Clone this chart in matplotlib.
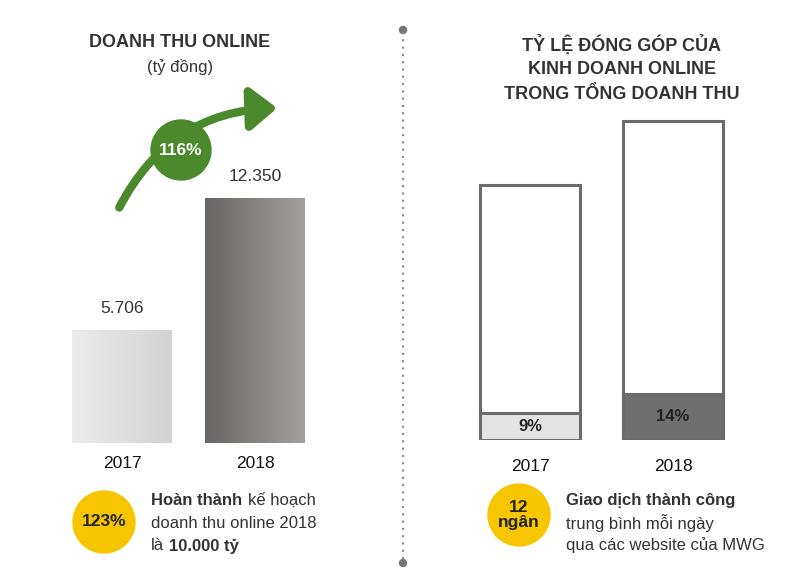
import numpy as np
import matplotlib.pyplot as plt
from matplotlib.patches import Circle, FancyArrowPatch
from matplotlib.colors import LinearSegmentedColormap

plt.rcParams['font.family'] = 'Liberation Sans'

years = ['2017', '2018']
online_revenue = [5706, 12350]          # tỷ đồng
online_labels = ['5.706', '12.350']
total_revenue = [66300, 82900]          # estimated, for outline bars
online_share = [0.105, 0.145]           # drawn fill proportion (estimated)
share_labels = ['9%', '14%']

W, H = 800, 569
fig = plt.figure(figsize=(8, 5.69), dpi=100)
fig.patch.set_facecolor('white')
TXT = '#333333'

def fax(l, b, w, h):
    return fig.add_axes([l / W, 1 - (b) / H, w / W, h / H])

# ---- left bar chart ----
axL = fax(40, 443, 300, 363)
axL.axis('off')
grads = [('#ececec', '#d2d2d2'), ('#676565', '#a39f9c')]
bw = 0.752
for i, v in enumerate(online_revenue):
    cm = LinearSegmentedColormap.from_list('g', grads[i])
    x0 = i - bw / 2
    axL.imshow(np.linspace(0, 1, 100)[None, :], cmap=cm, aspect='auto',
               extent=[x0, x0 + bw, 0, v], zorder=1)
axL.set_xlim(-0.617, 1.64)
axL.set_ylim(0, 18333)

# ---- right bar chart ----
axR = fax(425, 440, 350, 400)
axR.set_xlim(-0.734, 1.713)
axR.set_ylim(0, 66300 * 400 / 255)
axR.axis('off')
bw2 = 100 / 143
for i, t in enumerate(total_revenue):
    axR.bar(i, t, width=bw2, facecolor='white', edgecolor='#6b6b6b', linewidth=2.2, zorder=2)
    axR.bar(i, t * online_share[i], width=bw2, facecolor=['#e4e4e4', '#6f6f6f'][i],
            edgecolor='#6b6b6b', linewidth=2.2, zorder=3)
    axR.text(i, t * online_share[i] / 2, share_labels[i], ha='center', va='center',
             fontsize=12, fontweight='bold', color='#222222', zorder=4)

# ---- overlay ----
ov = fig.add_axes([0, 0, 1, 1])
ov.set_xlim(0, W); ov.set_ylim(H, 0); ov.axis('off')
ov.patch.set_alpha(0)

ov.text(180, 42, 'DOANH THU ONLINE', ha='center', va='center', fontsize=13, fontweight='bold', color=TXT)
ov.text(180, 67, '(tỷ đồng)', ha='center', va='center', fontsize=12, color=TXT)
for j, s in enumerate(['TỶ LỆ ĐÓNG GÓP CỦA', 'KINH DOANH ONLINE', 'TRONG TỔNG DOANH THU']):
    ov.text(622, 45 + j * 24.5, s, ha='center', va='center', fontsize=13, fontweight='bold', color=TXT)

for i, (y, lab) in enumerate(zip(years, online_labels)):
    cx = 122 + i * 133
    top = 443 - online_revenue[i] * 363 / 18333
    ov.text(cx, top - 22, lab, ha='center', va='center', fontsize=12.5, color=TXT)
    ov.text(cx, 463, y, ha='center', va='center', fontsize=12.5, color='#111111')
    ov.text(530 + i * 143, 466, y, ha='center', va='center', fontsize=12.5, color='#111111')

# divider
ov.plot([403, 403], [32, 562], ls=(0, (1, 2.5)), color='#888888', lw=1.5)
ov.add_patch(Circle((403, 30), 3.5, color='#777777'))
ov.add_patch(Circle((403, 563), 3.5, color='#777777'))

# green arrow
green = '#4a8a2c'
ov.add_patch(FancyArrowPatch((118, 210), (280, 108), connectionstyle='arc3,rad=-0.3',
                             arrowstyle='-|>,head_length=10,head_width=8', color=green, lw=6,
                             mutation_scale=1.6))
ov.add_patch(Circle((181, 150), 30, color=green, zorder=5))
ov.text(181, 150, '116%', ha='center', va='center', fontsize=12.5, fontweight='bold', color='white', zorder=6)

# yellow circles
yel = '#f7c600'
ov.add_patch(Circle((104, 522), 31, color=yel))
ov.text(104, 522, '123%', ha='center', va='center', fontsize=12.5, fontweight='bold', color='#222222')
ov.add_patch(Circle((519, 515), 31, color=yel))
ov.text(519, 515, '12\nngân', ha='center', va='center', fontsize=12.5, fontweight='bold',
        color='#222222', linespacing=1.0)

# bottom texts
ov.text(151, 500, 'Hoàn thành', ha='left', va='center', fontsize=12, fontweight='bold', color=TXT)
ov.text(248, 500, 'kế hoạch', ha='left', va='center', fontsize=12, color=TXT)
ov.text(151, 523, 'doanh thu online 2018', ha='left', va='center', fontsize=12, color=TXT)
ov.text(151, 546, 'là', ha='left', va='center', fontsize=12, color=TXT)
ov.text(169, 546, '10.000 tỷ', ha='left', va='center', fontsize=12, fontweight='bold', color=TXT)
ov.text(566, 500, 'Giao dịch thành công', ha='left', va='center', fontsize=12, fontweight='bold', color=TXT)
ov.text(566, 523, 'trung bình mỗi ngày', ha='left', va='center', fontsize=12, color=TXT)
ov.text(566, 545, 'qua các website của MWG', ha='left', va='center', fontsize=12, color=TXT)

fig.savefig('out.png', dpi=100, facecolor='white')
